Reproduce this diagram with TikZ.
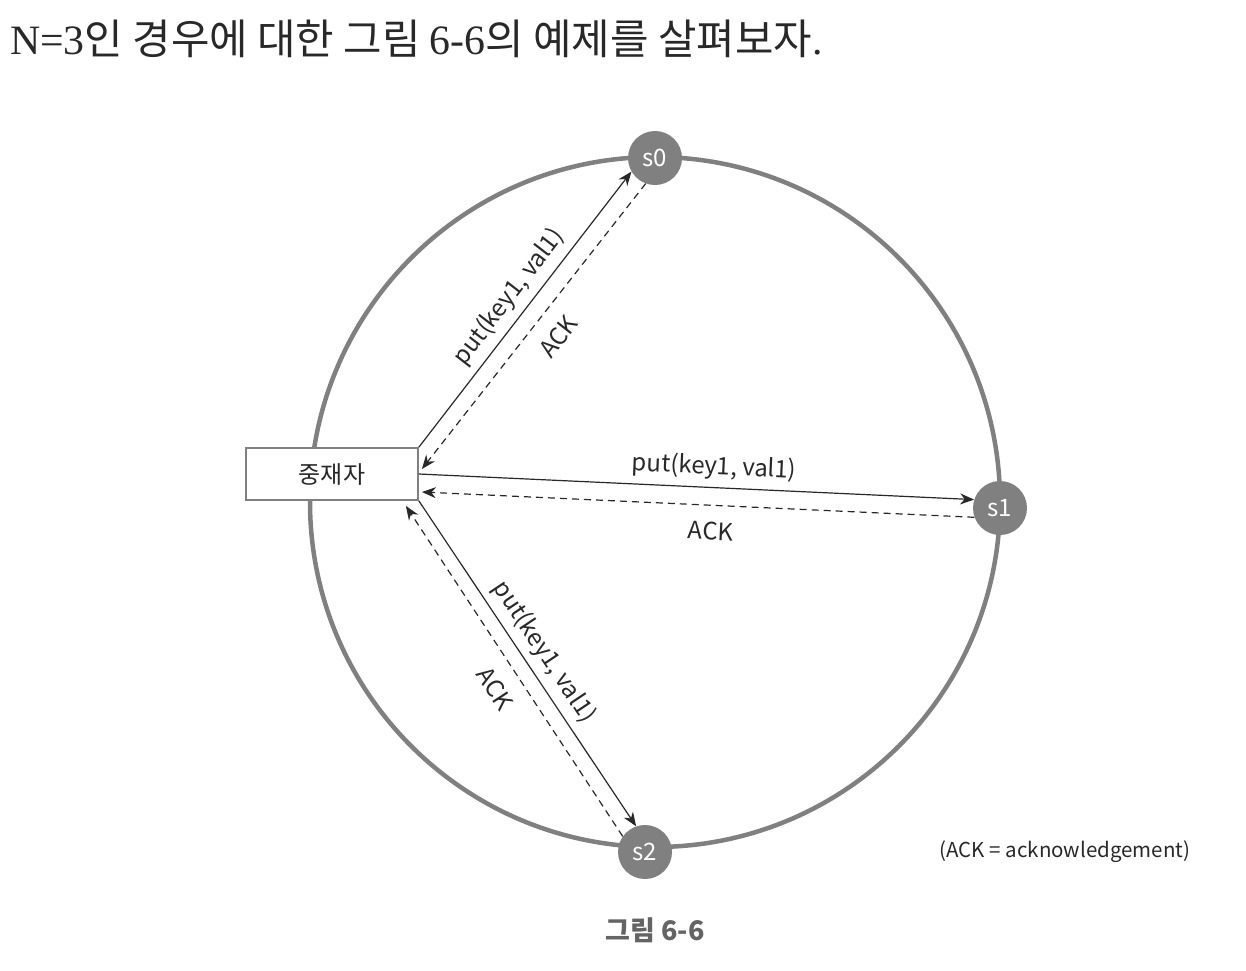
\documentclass[tikz,border=0pt]{standalone}
\usepackage{fontspec}
\setmainfont{Noto Sans CJK KR}
\newfontfamily\serifpart{Liberation Serif}
\usepackage{tikz}
\usetikzlibrary{arrows.meta}
\definecolor{ringgray}{RGB}{128,128,128}
\definecolor{capgray}{RGB}{100,100,100}
\definecolor{inkgray}{RGB}{40,40,40}
\tikzstyle{server}=[circle,fill=ringgray,text=white,minimum size=54pt,inner sep=0pt,font=\fontsize{24}{26}\selectfont]
\tikzstyle{ring}=[draw=ringgray,line width=4.5pt]
\tikzstyle{coordbox}=[draw=ringgray,line width=1.8pt,fill=white,minimum width=172pt,minimum height=52pt,font=\fontsize{24}{26}\selectfont,text=inkgray]
\tikzstyle{req}=[draw=inkgray,line width=1.2pt,-{Stealth[length=14pt,width=11pt]}]
\tikzstyle{ack}=[req,dash pattern=on 7pt off 5pt]
\tikzstyle{lbl}=[font=\fontsize{24}{26}\selectfont,text=inkgray,sloped,inner sep=7pt]
\tikzstyle{acklbl}=[lbl,inner ysep=16pt]

\begin{document}
\begin{tikzpicture}[x=1pt,y=-1pt]
\useasboundingbox (0,0) rectangle (1246,970);
\node[anchor=base west,inner sep=0pt,font=\fontsize{41.8}{43}\selectfont,text=inkgray] (title) at (10,54)
    {{\serifpart N=3}인 경우에 대한 그림 {\serifpart 6-6}의 예제를 살펴보자{\serifpart .}};
\draw[ring] (655,502) circle[radius=345];
\foreach \place/\name in {{(655,158)/s0}, {(1000,508)/s1}, {(645,852)/s2}}
    \node[server] (\name) at \place {\name};
\node[coordbox] (coord) at (332,474) {중재자};
\coordinate (a0) at ([xshift=3pt,yshift=5pt]coord.east);
\coordinate (a1) at ([xshift=3pt,yshift=-18pt]coord.east);
\coordinate (a2) at ([xshift=-13pt,yshift=-5pt]coord.south east);
\foreach \src/\dst/\p/\id in {coord.north east/s0.210/0.5/p0, coord.east/s1.162/0.53/p1, coord.south east/s2.109/0.5/p2}
    \draw[req] (\src) -- (\dst) node[lbl,pos=\p,above] (\id) {put(key1, val1)};
\foreach \src/\dst/\p/\id in {s0.250/a0/0.48/k0, s1.200/a1/0.475/k1, s2.145/a2/0.49/k2}
    \draw[ack] (\src) -- (\dst) node[acklbl,pos=\p,below] (\id) {ACK};
\node[font=\fontsize{20.5}{22}\selectfont,text=inkgray] (note) at (1065,852) {(ACK = acknowledgement)};
\node[font=\bfseries\fontsize{27}{29}\selectfont,text=capgray] (caption) at (655,930) {그림 6-6};
\end{tikzpicture}
\end{document}
